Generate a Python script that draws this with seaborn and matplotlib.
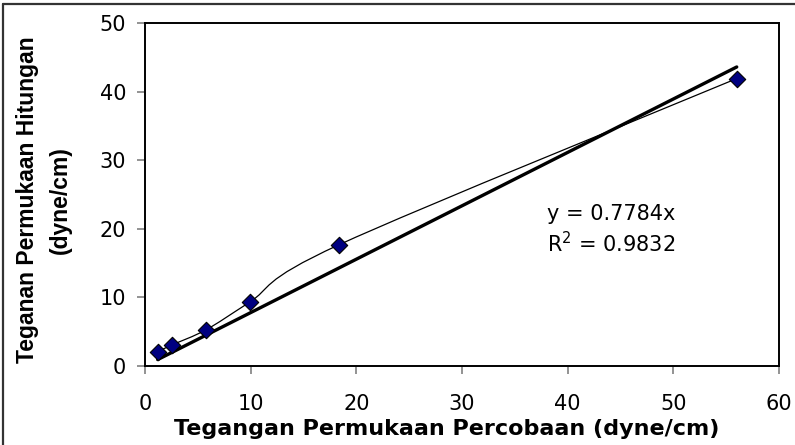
import numpy as np
import pandas as pd
import seaborn as sns
import matplotlib
matplotlib.use("Agg")
import matplotlib.pyplot as plt
from matplotlib.path import Path
from matplotlib.patches import PathPatch
from matplotlib.lines import Line2D

# Measured vs. calculated surface tension (dyne/cm)
percobaan = [1.2, 2.6, 5.8, 9.9, 18.4, 56.0]
hitungan = [2.1, 3.1, 5.3, 9.3, 17.7, 41.9]

# Linear trendline through the origin
slope = 0.7784
r_squared = 0.9832

x_ticks = [0, 10, 20, 30, 40, 50, 60]
y_ticks = [0, 10, 20, 30, 40, 50]

x_label = "Tegangan Permukaan Percobaan (dyne/cm)"
y_label = "Teganan Permukaan Hitungan\n(dyne/cm)"

sns.set_theme(style="white")
plt.rcParams["font.family"] = ["DejaVu Sans"]
plt.rcParams["text.color"] = "black"
plt.rcParams["axes.labelcolor"] = "black"

df = pd.DataFrame({"x": percobaan, "y": hitungan})
trend = pd.DataFrame({"x": [min(percobaan), max(percobaan)]})
trend["y"] = slope * trend["x"]

fig = plt.figure(figsize=(7.95, 4.45), dpi=100)
ax = fig.add_axes([145 / 795, 1 - 366 / 445, (779 - 145) / 795, (366 - 23) / 445])

# Smoothed connecting curve (cubic Bezier segments, Catmull-Rom style)
pts = np.column_stack([percobaan, hitungan])
n = len(pts)
verts = [tuple(pts[0])]
codes = [Path.MOVETO]
for i in range(n - 1):
    p0 = pts[max(i - 1, 0)]
    p1 = pts[i]
    p2 = pts[i + 1]
    p3 = pts[min(i + 2, n - 1)]
    c1 = p1 + (p2 - p0) / 6.0
    c2 = p2 - (p3 - p1) / 6.0
    verts += [tuple(c1), tuple(c2), tuple(p2)]
    codes += [Path.CURVE4, Path.CURVE4, Path.CURVE4]
ax.add_patch(PathPatch(Path(verts, codes), facecolor="none", edgecolor="black",
                       lw=0.9, zorder=2))

sns.lineplot(data=trend, x="x", y="y", ax=ax, color="black", lw=2.4,
             zorder=3, legend=False)
sns.scatterplot(data=df, x="x", y="y", ax=ax, marker="D", s=70,
                color="#000080", edgecolor="black", linewidth=0.8,
                zorder=4, legend=False)

ax.set_xlim(0, 60)
ax.set_ylim(0, 50)
ax.set_xticks(x_ticks)
ax.set_yticks(y_ticks)
ax.tick_params(axis="both", which="major", direction="out", length=5.5,
               width=1.2, color="#808080", labelsize=15, labelcolor="black",
               bottom=True, left=True)
ax.tick_params(axis="x", pad=15)
ax.tick_params(axis="y", pad=8)

for s in ax.spines.values():
    s.set_visible(True)
    s.set_color("black")
    s.set_linewidth(1.4)

ax.set_xlabel(x_label, fontsize=16, fontweight="bold", labelpad=3)
ax.xaxis.set_label_coords((447 - 145) / 634, -0.155)
ax.set_ylabel(y_label, fontsize=16.5, fontweight="bold",
              linespacing=1.55, family=["Liberation Sans", "DejaVu Sans"])
ax.yaxis.set_label_coords((72 - 145) / 634, 0.485)

ax.text((547 - 145) / 634, (366 - 230) / 343,
        f"y = {slope}x\nR$^2$ = {r_squared}",
        transform=ax.transAxes, fontsize=15, ha="left", va="center",
        linespacing=1.3)

# Frame lines along the top and left figure edges
fig.add_artist(Line2D([0.004, 1.0], [0.991, 0.991], transform=fig.transFigure,
                      color="#333333", lw=1.6))
fig.add_artist(Line2D([0.004, 0.004], [0.0, 0.991], transform=fig.transFigure,
                      color="#333333", lw=1.6))

fig.savefig("out.png", dpi=100)
